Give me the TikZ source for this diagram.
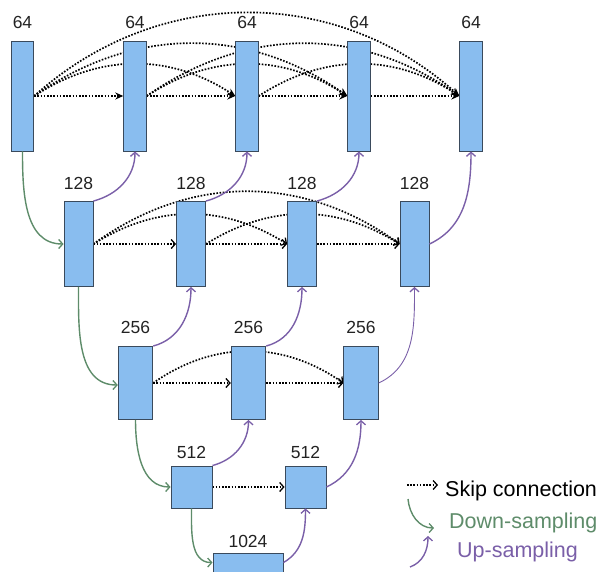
\documentclass[tikz,border=0pt]{standalone}
\usepackage{fontspec}
\setmainfont{Liberation Sans}
\usetikzlibrary{arrows.meta,backgrounds}
\definecolor{boxfill}{HTML}{89BDEF}
\definecolor{boxline}{HTML}{3A4A5C}
\definecolor{downc}{HTML}{5E8C6A}
\definecolor{upc}{HTML}{7A5FA8}
\definecolor{txt}{HTML}{222222}

\begin{document}
\begin{tikzpicture}[x=1pt,y=1pt,
  blk/.style={draw=boxline, fill=boxfill, line width=0.9pt, inner sep=0pt},
  rowA/.style={blk, minimum width=22.5pt, minimum height=110pt},
  rowB/.style={blk, minimum width=29pt, minimum height=85pt},
  rowC/.style={blk, minimum width=34.5pt, minimum height=73pt},
  rowD/.style={blk, minimum width=41pt, minimum height=42pt},
  rowE/.style={blk, minimum width=70pt, minimum height=60pt},
  lbl/.style={text=txt, font=\fontsize{17.5}{20}\selectfont, inner sep=0pt},
  legtxt/.style={font=\fontsize{21.5}{24}\selectfont, inner sep=0pt, anchor=base west},
  skip/.style={line width=1.7pt, dash pattern=on 1.6pt off 1.6pt,
    -{Straight Barb[length=4pt,width=9pt,line width=1.3pt]}},
  skiptop/.style={line width=1.7pt, dash pattern=on 1.6pt off 1.6pt,
    -{Stealth[length=8pt,width=7pt]}},
  down/.style={draw=downc, line width=1.4pt,
    -{Straight Barb[length=4pt,width=9pt,line width=1.3pt]}},
  up/.style={draw=upc, line width=1.4pt,
    -{Straight Barb[length=4pt,width=9pt,line width=1.3pt]}}
]
\useasboundingbox (0,0) rectangle (605,-571);

% encoder/decoder blocks, row by row
\node[rowA] (a0) at (22.5,-96) {};
\node[rowA] (a1) at (135,-96) {};
\node[rowA] (a2) at (247,-96) {};
\node[rowA] (a3) at (359,-96) {};
\node[rowA] (a4) at (471,-96) {};

\node[rowB] (b0) at (78.5,-244) {};
\node[rowB] (b1) at (191,-244) {};
\node[rowB] (b2) at (302,-244) {};
\node[rowB] (b3) at (414.5,-244) {};

\node[rowC] (c0) at (135.5,-383) {};
\node[rowC] (c1) at (248.5,-383) {};
\node[rowC] (c2) at (361,-383) {};

\node[rowD] (d0) at (191.5,-487) {};
\node[rowD] (d1) at (305.5,-487) {};

\node[rowE] (e0) at (248,-583) {};

% channel counts
\node[lbl] (la0) at (22.5,-22.5) {64};
\node[lbl] (la1) at (135,-22.5) {64};
\node[lbl] (la2) at (247,-22.5) {64};
\node[lbl] (la3) at (359,-22.5) {64};
\node[lbl] (la4) at (471,-22.5) {64};
\node[lbl] (lb0) at (78.5,-183) {128};
\node[lbl] (lb1) at (191,-183) {128};
\node[lbl] (lb2) at (302,-183) {128};
\node[lbl] (lb3) at (414.5,-183) {128};
\node[lbl] (lc0) at (135.5,-327) {256};
\node[lbl] (lc1) at (248.5,-327) {256};
\node[lbl] (lc2) at (361,-327) {256};
\node[lbl] (ld0) at (191.5,-452) {512};
\node[lbl] (ld1) at (305.5,-452) {512};
\node[lbl] (le0) at (248,-541) {1024};

\begin{scope}[on background layer]
  % dense skip connections, top row
  \draw[skiptop] (a0.east) -- (a1.west);
  \draw[skiptop] (a1.east) -- (a2.west);
  \draw[skiptop] (a2.east) -- (a3.west);
  \draw[skiptop] (a3.east) -- (a4.west);
  \draw[skiptop] (a0.east) to[out=33,in=147] (a2.west);
  \draw[skiptop] (a1.east) to[out=33,in=147] (a3.west);
  \draw[skiptop] (a2.east) to[out=33,in=147] (a4.west);
  \draw[skiptop] (a0.east) to[out=35,in=145] (a3.west);
  \draw[skiptop] (a1.east) to[out=35,in=145] (a4.west);
  \draw[skiptop] (a0.east) to[out=42,in=138] (a4.west);
  % second row
  \draw[skip] (b0.east) -- (b1.west);
  \draw[skip] (b1.east) -- (b2.west);
  \draw[skip] (b2.east) -- (b3.west);
  \draw[skip] (b0.east) to[out=32,in=148] (b2.west);
  \draw[skip] (b1.east) to[out=32,in=148] (b3.west);
  \draw[skip] (b0.east) to[out=36,in=144] (b3.west);
  % third row
  \draw[skip] (c0.east) -- (c1.west);
  \draw[skip] (c1.east) -- (c2.west);
  \draw[skip] (c0.east) to[out=35,in=145] (c2.west);
  % fourth row
  \draw[skip] (d0.east) -- (d1.west);
\end{scope}

% down-sampling
\draw[down] (a0.south) to[out=-90,in=180] (b0.west);
\draw[down] (b0.south) to[out=-90,in=180] ([yshift=-2pt]c0.west);
\draw[down] (c0.south) to[out=-90,in=180] (d0.west);
\draw[down] (d0.south) to[out=-90,in=180] ([yshift=-10pt]e0.north west);

% up-sampling
\draw[up] (b0.north east) to[out=15,in=-90] (a1.south);
\draw[up] (b1.north east) to[out=15,in=-90] (a2.south);
\draw[up] (b2.north east) to[out=15,in=-90] (a3.south);
\draw[up] (b3.east) to[out=25,in=-90] (a4.south);
\draw[up] (c0.north east) to[out=15,in=-90] (b1.south);
\draw[up] (c1.north east) to[out=15,in=-90] (b2.south);
\draw[up, line width=0.9pt] (c2.east) to[out=25,in=-90] (b3.south);
\draw[up] (d0.north east) to[out=15,in=-90] (c1.south);
\draw[up] (d1.east) to[out=25,in=-90] (c2.south);
\draw[up] ([yshift=-10pt]e0.north east) to[out=30,in=-90] (d1.south);

% legend
\coordinate (ks) at (407,-485);
\coordinate (ke) at (438,-485);
\draw[skip, line width=1.3pt] (ks) -- (ke);
\node[legtxt, text=black] (tskip) at (445,-496) {Skip connection};

\coordinate (ds) at (408,-499);
\coordinate (de) at (434,-528);
\draw[down] (ds) to[out=-85,in=180] (de);
\node[legtxt, text=downc] (tdown) at (449,-528) {Down-sampling};

\coordinate (us) at (410,-567);
\coordinate (ue) at (428,-536);
\draw[up] (us) to[out=20,in=-90] (ue);
\node[legtxt, text=upc] (tup) at (457,-557) {Up-sampling};
\end{tikzpicture}
\end{document}
